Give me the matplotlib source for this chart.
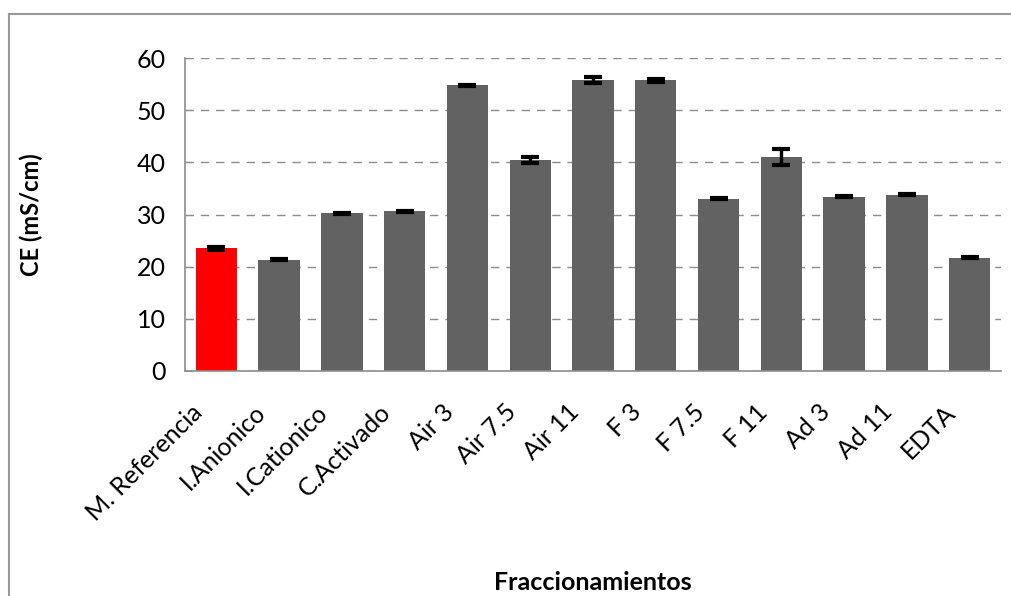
import numpy as np
import matplotlib
matplotlib.use("Agg")
import matplotlib.pyplot as plt
import matplotlib.transforms as mtransforms
from matplotlib.lines import Line2D

categories = ["M. Referencia", "I.Anionico", "I.Cationico", "C.Activado", "Air 3", "Air 7.5",
              "Air 11", "F 3", "F 7.5", "F 11", "Ad 3", "Ad 11", "EDTA"]
ce_values = [23.5, 21.3, 30.2, 30.6, 54.8, 40.4, 55.8, 55.7, 33.0, 41.1, 33.4, 33.8, 21.7]
ce_errors = [0.25, 0.1, 0.1, 0.1, 0.1, 0.55, 0.6, 0.35, 0.1, 1.55, 0.1, 0.1, 0.1]
bar_colors = ["#ff0000"] + ["#626262"] * 12
y_ticks = [0, 10, 20, 30, 40, 50, 60]

plt.rcParams["font.family"] = ["Lato", "DejaVu Sans"]

fig = plt.figure(figsize=(10.12, 5.96), dpi=100)
ax = fig.add_axes([185 / 1012, 1 - 371 / 596, 816 / 1012, 313 / 596])

x = np.arange(len(categories))
ax.bar(x, ce_values, width=0.66, color=bar_colors, zorder=2)
ax.errorbar(x, ce_values, yerr=ce_errors, fmt="none", ecolor="black", elinewidth=2.4,
            capsize=6.5, capthick=3, zorder=3)

ax.set_xlim(-0.5, len(categories) - 0.5)
ax.set_ylim(0, 60)
ax.set_yticks(y_ticks)
ax.yaxis.grid(True, color="#8c8c8c", lw=1, dashes=(6, 5), zorder=1)
ax.set_axisbelow(True)
for side in ("top", "right"):
    ax.spines[side].set_visible(False)
for side in ("left", "bottom"):
    ax.spines[side].set_color("#8c8c8c")
    ax.spines[side].set_linewidth(1.2)

ax.tick_params(axis="y", direction="in", length=6, color="#8c8c8c", labelsize=18, pad=14)
ax.tick_params(axis="x", length=0, pad=21)
ax.set_xticks(x)
ax.set_xticklabels(categories, rotation=45, ha="right", va="top", rotation_mode="anchor", fontsize=18)
shift = mtransforms.ScaledTranslation(-26 / 100, 0, fig.dpi_scale_trans)
for lbl in ax.get_xticklabels():
    lbl.set_transform(lbl.get_transform() + shift)

ax.set_ylabel("CE (mS/cm)", fontsize=17, fontweight="bold")
ax.yaxis.set_label_coords((43 - 185) / 816, 0.5)
ax.set_xlabel("Fraccionamientos", fontsize=18, fontweight="bold")
ax.xaxis.set_label_coords(0.5, -(582 - 371) / 313)
ax.xaxis.label.set_va("center")

# outer chart frame (top and left edges)
fig.add_artist(Line2D([9 / 1012, 1.0], [1 - 14 / 596] * 2, color="#999999", lw=1.5))
fig.add_artist(Line2D([9 / 1012] * 2, [0.0, 1 - 14 / 596], color="#999999", lw=1.5))

fig.savefig("out.png", dpi=100)
